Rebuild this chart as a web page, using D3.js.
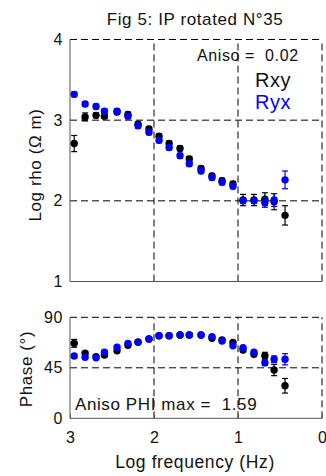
<!DOCTYPE html>
<html>
<head>
<meta charset="utf-8">
<script src="https://cdn.jsdelivr.net/npm/d3@7/dist/d3.min.js"></script>
<style>
  html, body { margin: 0; padding: 0; background: #fff; }
  svg { display: block; }
  text { font-family: "Liberation Sans", Arial, sans-serif; }
</style>
</head>
<body>
<svg id="chart" width="326" height="476"></svg>
<script>
// Sounding curves: log10 frequency (Hz) for each estimate
const logFreq = [2.95, 2.82, 2.69, 2.59, 2.44, 2.31, 2.19, 2.06, 1.94, 1.82, 1.69,
                 1.58, 1.44, 1.31, 1.19, 1.06, 0.94, 0.81, 0.68, 0.57, 0.44];

// Apparent resistivity, log10(ohm.m)
const rhoXY = [2.71, 3.04, 3.06, 3.05, 3.10, 3.07, 2.95, 2.89, 2.80, 2.71, 2.65,
               2.52, 2.40, 2.31, 2.25, 2.21, 2.01, 2.01, 2.02, 1.99, 1.82];
const rhoYX = [3.32, 3.20, 3.17, 3.11, 3.11, 3.05, 2.93, 2.85, 2.75, 2.66, 2.56,
               2.46, 2.37, 2.29, 2.23, 2.18, 2.00, 2.00, 1.98, 2.01, 2.26];
const rhoErrXY = [0.10, 0.05, 0.03, 0.03, 0.03, 0.03, 0.03, 0.03, 0.03, 0.03, 0.03,
                  0.03, 0.03, 0.03, 0.03, 0.03, 0.07, 0.07, 0.08, 0.10, 0.12];
const rhoErrYX = [0.03, 0.03, 0.03, 0.03, 0.03, 0.03, 0.03, 0.03, 0.03, 0.03, 0.03,
                  0.03, 0.03, 0.03, 0.03, 0.03, 0.03, 0.03, 0.06, 0.08, 0.11];

// Impedance phase, degrees
const phiXY = [66.8, 57.9, 55.0, 56.4, 60.2, 65.0, 68.0, 70.7, 73.6, 73.6, 74.2,
               74.2, 74.2, 71.3, 69.8, 67.7, 60.9, 57.0, 55.8, 43.0, 29.0];
const phiYX = [55.5, 54.4, 54.0, 58.8, 63.3, 66.8, 67.7, 70.7, 73.6, 73.6, 74.2,
               74.2, 74.2, 72.7, 68.9, 64.7, 62.9, 58.8, 49.5, 52.6, 52.6];
const phiErrXY = [3.5, 1.5, 1.5, 1.5, 1.5, 1.5, 1.5, 1.5, 1.5, 1.5, 1.5,
                  1.5, 1.5, 1.5, 1.5, 1.5, 1.5, 1.5, 3.0, 5.0, 6.5];
const phiErrYX = [1.5, 1.5, 1.5, 1.5, 1.5, 1.5, 1.5, 1.5, 1.5, 1.5, 1.5,
                  1.5, 1.5, 1.5, 1.5, 1.5, 1.5, 1.5, 2.5, 3.0, 5.0];

// Tick labels
const freqTicks = [3, 2, 1, 0];
const rhoTicks = [1, 2, 3, 4];
const phiTicks = [0, 45, 90];

const title = "Fig 5: IP rotated N°35";
const anisoRho = "0.02";
const anisoPhi = "1.59";

const svg = d3.select("#chart");
const FONT = "Liberation Sans, Arial, sans-serif";
const INK = "#111";
const BLUE = "#0000ff";

const x = d3.scaleLinear().domain([3, 0]).range([70, 322]);
const yRho = d3.scaleLinear().domain([1, 4]).range([281.5, 39.5]);
const yPhi = d3.scaleLinear().domain([0, 90]).range([418.3, 317.3]);

const DASH = "7,4";
const AXIS = "#555";

function panel(y, hTicks, vTicks) {
  const g = svg.append("g");
  const [y0, y1] = y.range();
  // dashed grid, including top and right borders
  g.selectAll("line.h").data(hTicks.filter(v => v !== y.domain()[0])).join("line")
    .attr("x1", x(3)).attr("x2", x(0))
    .attr("y1", d => y(d)).attr("y2", d => y(d))
    .attr("stroke", "#000").attr("stroke-dasharray", DASH).attr("stroke-width", 1);
  g.selectAll("line.v").data(vTicks.filter(v => v !== 3)).join("line")
    .attr("x1", d => x(d)).attr("x2", d => x(d))
    .attr("y1", y0).attr("y2", y1)
    .attr("stroke", "#000").attr("stroke-dasharray", DASH).attr("stroke-width", 1);
  // solid left and bottom axes
  g.append("line").attr("x1", x(3)).attr("x2", x(0)).attr("y1", y0).attr("y2", y0)
    .attr("stroke", AXIS).attr("stroke-width", 1);
  g.append("line").attr("x1", x(3)).attr("x2", x(3)).attr("y1", y0).attr("y2", y1)
    .attr("stroke", AXIS).attr("stroke-width", 1);
  return g;
}

panel(yRho, rhoTicks, freqTicks);
panel(yPhi, phiTicks, freqTicks);

// left axes (labels only, lines drawn by the panels)
function leftAxis(y, ticks) {
  const g = svg.append("g").attr("transform", `translate(${x(3)},0)`)
    .call(d3.axisLeft(y).tickValues(ticks).tickSize(0).tickPadding(7).tickFormat(d3.format("d")));
  g.select(".domain").remove();
  g.selectAll("text").attr("font-size", 16).attr("font-family", FONT)
    .attr("fill", INK).attr("letter-spacing", 0.6);
}
leftAxis(yRho, rhoTicks);
leftAxis(yPhi, phiTicks);

// bottom axis with short inward ticks
const xa = svg.append("g").attr("transform", `translate(0,${yPhi(0)})`)
  .call(d3.axisBottom(x).tickValues(freqTicks).tickSize(-4).tickSizeOuter(0)
        .tickPadding(13.5).tickFormat(d3.format("d")));
xa.select(".domain").remove();
xa.selectAll(".tick line").attr("stroke", AXIS);
xa.selectAll("text").attr("font-size", 16).attr("font-family", FONT).attr("fill", INK);

// series with error bars
function series(y, vals, errs, color) {
  const g = svg.append("g");
  const pts = logFreq.map((f, i) => ({ f, v: vals[i], e: errs[i] }));
  g.selectAll("line.eb").data(pts).join("line")
    .attr("x1", d => x(d.f)).attr("x2", d => x(d.f))
    .attr("y1", d => y(d.v - d.e)).attr("y2", d => y(d.v + d.e))
    .attr("stroke", color).attr("stroke-width", 1.2);
  [-1, 1].forEach(s => {
    g.append("g").selectAll("line").data(pts).join("line")
      .attr("x1", d => x(d.f) - 3).attr("x2", d => x(d.f) + 3)
      .attr("y1", d => y(d.v + s * d.e))
      .attr("y2", d => y(d.v + s * d.e))
      .attr("stroke", color).attr("stroke-width", 1.2);
  });
  g.selectAll("circle").data(pts).join("circle")
    .attr("cx", d => x(d.f)).attr("cy", d => y(d.v)).attr("r", 3.7)
    .attr("fill", color);
}
series(yRho, rhoXY, rhoErrXY, "#000");
series(yRho, rhoYX, rhoErrYX, BLUE);
series(yPhi, phiXY, phiErrXY, "#000");
series(yPhi, phiYX, phiErrYX, BLUE);

// titles and annotations
function label(txt, px, py, size, opts = {}) {
  const t = svg.append("text").attr("x", px).attr("y", py)
    .attr("font-size", size).attr("font-family", FONT)
    .attr("letter-spacing", opts.ls ?? 0.6)
    .attr("text-anchor", opts.anchor || "start")
    .style("white-space", "pre")
    .style("fill", opts.fill || INK)
    .text(txt);
  if (opts.rotate) t.attr("transform", `rotate(-90,${px},${py})`);
  return t;
}
label(title, 195, 25, 17, { anchor: "middle" });
label("Log frequency (Hz)", 195, 468, 17.5, { anchor: "middle" });
label("Log rho (\u03A9 m)", 40.5, 165, 17, { anchor: "middle", rotate: true });
label("Phase (°)", 31.5, 369, 17, { anchor: "middle", rotate: true });
label("Aniso =  " + anisoRho, 197, 60.7, 16);
label("Rxy", 255, 87, 20, { ls: 0.5 });
label("Ryx", 255, 109, 20, { ls: 0.5, fill: BLUE });
label("Aniso PHI max =  " + anisoPhi, 75, 410, 17);
</script>
</body>
</html>
